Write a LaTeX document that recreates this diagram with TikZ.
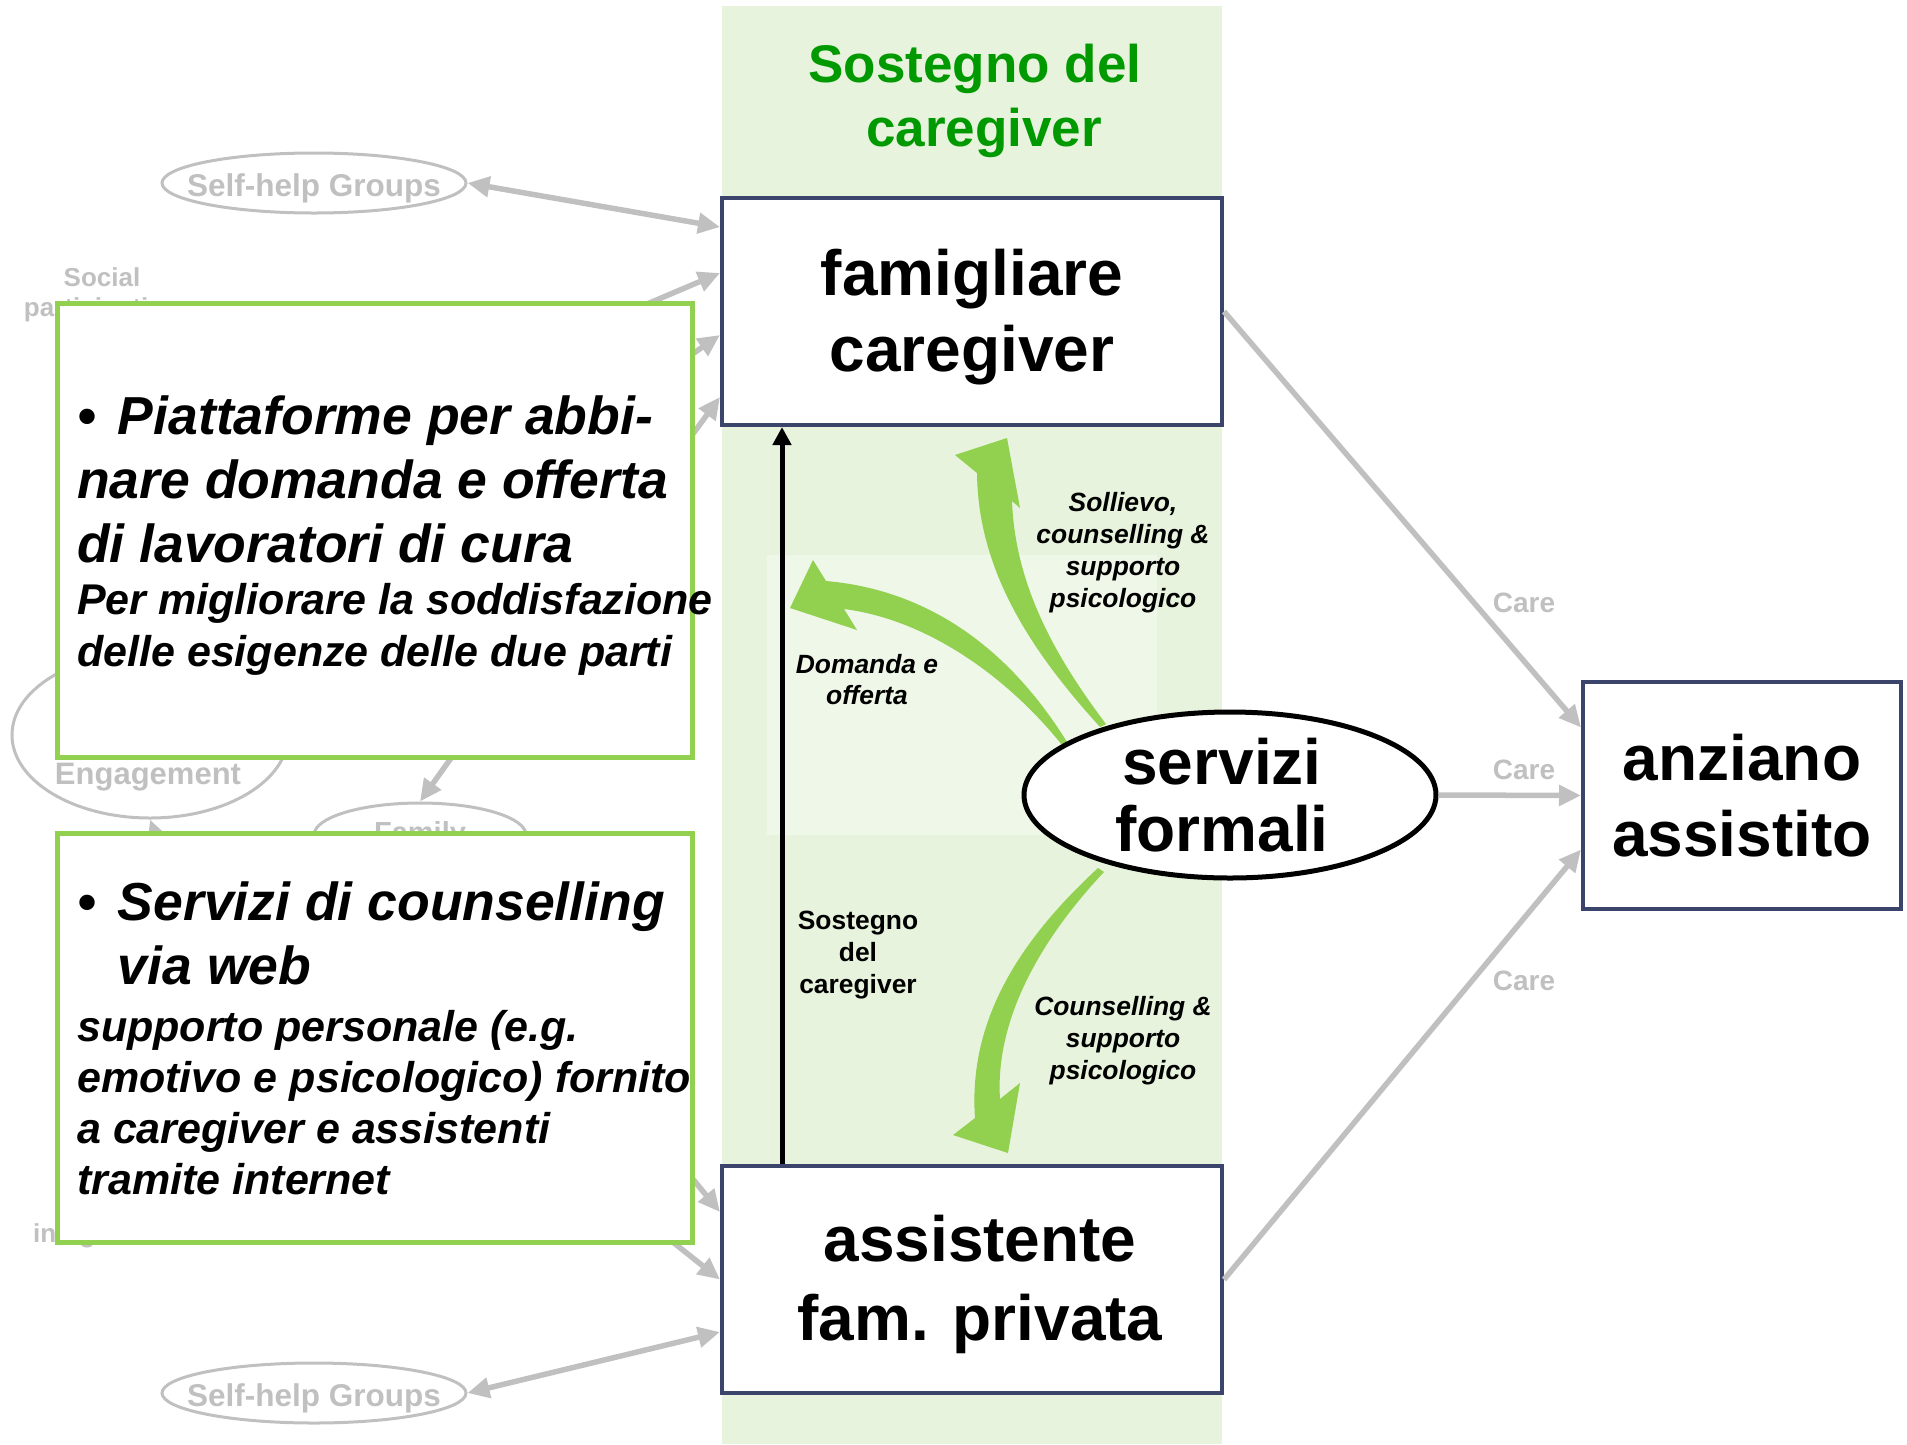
\documentclass[tikz,border=0pt]{standalone}
\usepackage{fontspec}
\setmainfont{Liberation Sans}
\usepackage{xcolor}
\definecolor{cnavy}{RGB}{59, 68, 107}
\definecolor{cleaf}{RGB}{146, 208, 80}
\definecolor{ctitle}{RGB}{0, 153, 0}
\definecolor{cgrey}{RGB}{192, 192, 192}
\definecolor{cband}{RGB}{231, 243, 220}
\definecolor{cpale}{RGB}{239, 247, 232}
\usetikzlibrary{arrows.meta, shapes.geometric}

\begin{document}
\begin{tikzpicture}[
    x=1pt, y=-1pt,
    mainbox/.style={
      draw=cnavy, line width=4pt, fill=white,
      minimum width=500pt, minimum height=227pt,
      inner sep=0pt, align=center,
      font=\fontsize{64}{76}\selectfont\bfseries
    },
    tipbox/.style={
      draw=cleaf, line width=5pt, fill=white,
      minimum width=635pt, inner sep=0pt
    },
    tiptext/.style={
      anchor=north west, inner sep=0pt,
      text width=660pt, align=flush left,
      font=\bfseries\itshape
    },
    greyell/.style={ellipse, draw=cgrey, line width=3pt, inner sep=0pt},
    greytext/.style={
      text=cgrey, inner sep=0pt, align=center,
      font=\fontsize{26}{30}\selectfont\bfseries
    },
    greyline/.style={draw=cgrey, line width=5.5pt},
    greyarrow/.style={greyline, -{Triangle[length=22pt,width=20pt]}},
    greybiarrow/.style={greyline,
      {Triangle[length=22pt,width=20pt]}-{Triangle[length=22pt,width=20pt]}},
    flowlabel/.style={
      inner sep=0pt, align=center,
      font=\fontsize{26.4}{32}\selectfont\bfseries\itshape
    }
  ]
  \useasboundingbox (0,0) rectangle (1907,1444);

  % green band
  \fill[cband] (722,6) rectangle (1222,1444);
  \fill[cpale] (767,555) rectangle (1157,835);
  \node[text=ctitle, align=center, inner sep=0pt,
    font=\fontsize{53}{64}\selectfont\bfseries] (title) at (975,101)
    {Sostegno del\\\hspace*{18pt}caregiver};

  % grey background network
  \node[greyell, minimum width=304pt, minimum height=60pt] (shgTop) at (314,183) {};
  \node[greytext, font=\fontsize{31.5}{36}\selectfont\bfseries] (shgTopTxt) at (314,188) {Self-help Groups};
  \node[greyell, minimum width=304pt, minimum height=60pt] (shgBot) at (314,1393) {};
  \node[greytext, font=\fontsize{31.5}{36}\selectfont\bfseries] (shgBotTxt) at (314,1398) {Self-help Groups};
  \node[greytext] (social) at (102,295) {Social\\participation};
  \node[greyell, minimum width=276pt, minimum height=166pt] (eng) at (150,735) {};
  \node[greytext, font=\fontsize{31}{36}\selectfont\bfseries] (engTxt) at (148,777) {Engagement};
  \node[greyell, minimum width=212pt, minimum height=64pt] (family) at (420,835) {};
  \node[greytext, font=\fontsize{29}{34}\selectfont\bfseries] (familyTxt) at (family) {Family};
  \node[greytext, anchor=base west] (integr) at (33,1242) {integration};

  \coordinate (h1) at (600,324);
  \coordinate (h2) at (640,390);
  \coordinate (h3) at (640,506);
  \coordinate (h4) at (640,1115);
  \coordinate (h5) at (640,1216);
  \coordinate (h6) at (464,740);
  \coordinate (h7) at (165,860);

  % main nodes
  \node[mainbox] (fam) at (972,311.5) {\rule{0pt}{57pt}famigliare\\caregiver};
  \node[mainbox, font=\fontsize{64}{79}\selectfont\bfseries] (asst) at (972,1279.5)
    {\rule{0pt}{57pt}\hspace*{16pt}assistente\\\hspace*{16pt}fam. privata};
  \node[mainbox, minimum width=318pt] (anz) at (1742,795.5) {anziano\\assistito};

  \draw[greybiarrow] (shgTop.east) -- ([yshift=84.5pt]fam.west);
  \draw[greybiarrow] (shgBot.east) -- ([yshift=-52.5pt]asst.west);
  \draw[greyarrow] (h1) -- ([yshift=38.5pt]fam.west);
  \draw[greyarrow] (h2) -- ([yshift=-23.5pt]fam.west);
  \draw[greyarrow] (h3) -- ([yshift=-85.5pt]fam.west);
  \draw[greyarrow] (h4) -- ([yshift=67.5pt]asst.west);
  \draw[greyarrow] (h5) -- (asst.west);
  \draw[greyarrow] (h6) -- (family.north);
  \draw[greyarrow] (h7) -- (eng.south);

  % green boxes with the proposals
  \node[tipbox, minimum height=454pt] (plat) at (374.5,530) {};
  \node[tiptext] (platTxt) at (77,396)
    {{\fontsize{53.5}{64}\selectfont •\hspace{22pt}Piattaforme per abbi-\\nare domanda e offerta\\di lavoratori di cura\par}
     {\fontsize{43}{52}\selectfont Per migliorare la soddisfazione\\delle esigenze delle due parti\par}};
  \node[tipbox, minimum height=409pt] (web) at (374.5,1037.5) {};
  \node[tiptext] (webTxt) at (77,882)
    {{\fontsize{53.5}{64}\selectfont •\hspace{22pt}Servizi di counselling\\\hphantom{•}\hspace*{22pt}via web\par}
     \vspace{6pt}
     {\fontsize{43}{51}\selectfont supporto personale (e.g.\\emotivo e psicologico) fornito\\a caregiver e assistenti\\tramite internet\par}};

  % curved green arrows out of the formal services
  \fill[cleaf] (1100,727) .. controls (1030,650) and (978,570) .. (977,473)
    -- (955,455) -- (1007,438) -- (1020,508) -- (1012,501)
    .. controls (1015,580) and (1050,650) .. (1106,724) -- cycle;
  \fill[cleaf] (1067,742) .. controls (1010,650) and (930,590) .. (826,581)
    -- (813,560) -- (790,608) -- (857,630) -- (844,609)
    .. controls (930,620) and (1010,680) .. (1062,745) -- cycle;
  \fill[cleaf] (1098,868) .. controls (1020,940) and (968,1020) .. (975,1118)
    -- (953,1135) -- (1008,1153) -- (1020,1083) -- (1000,1099)
    .. controls (995,1020) and (1040,940) .. (1104,872) -- cycle;

  \node[ellipse, draw=black, line width=5pt, fill=white, inner sep=0pt,
    minimum width=412pt, minimum height=166pt, align=center,
    font=\fontsize{64}{67}\selectfont\bfseries] (serv) at (1230,795)
    {servizi\hspace*{16pt}\\formali\hspace*{16pt}};

  \draw[line width=5pt, -{Triangle[length=18pt,width=18pt]}]
    ([xshift=-190pt]asst.north) -- ([xshift=-190pt]fam.south);

  \node[flowlabel] (relief) at (1123,553) {Sollievo,\\counselling \&\\supporto\\psicologico};
  \node[flowlabel, font=\fontsize{26.4}{31}\selectfont\bfseries\itshape] (match) at (867,680) {Domanda e\\offerta};
  \node[flowlabel, font=\fontsize{26.4}{32}\selectfont\bfseries] (support) at (858,955) {Sostegno\\del\\caregiver};
  \node[flowlabel] (counsel) at (1123,1041) {Counselling \&\\supporto\\psicologico};

  % care to the elderly
  \draw[greyarrow] (fam.east) -- ([yshift=68pt]anz.west);
  \draw[greyarrow] (serv.east) -- (anz.west);
  \draw[greyarrow] (asst.east) -- ([yshift=-54pt]anz.west);
  \node[greytext, font=\fontsize{28}{32}\selectfont\bfseries] (care1) at (1524,603) {Care};
  \node[greytext, font=\fontsize{28}{32}\selectfont\bfseries] (care2) at (1524,770) {Care};
  \node[greytext, font=\fontsize{28}{32}\selectfont\bfseries] (care3) at (1524,981) {Care};
\end{tikzpicture}
\end{document}
